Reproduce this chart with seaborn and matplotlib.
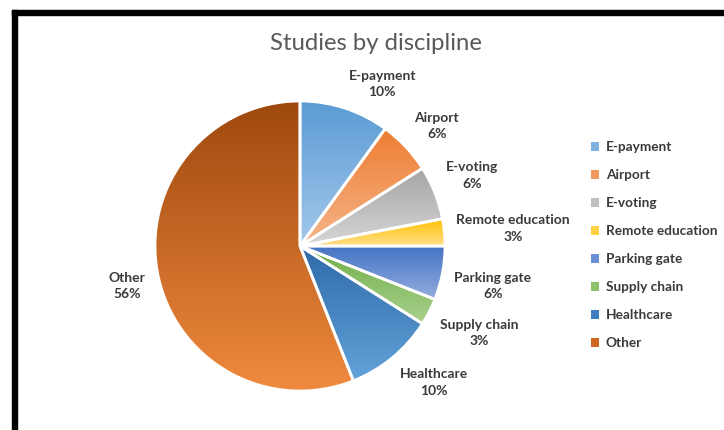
import numpy as np
import matplotlib
matplotlib.use("Agg")
import matplotlib.pyplot as plt
import seaborn as sns
from matplotlib.patches import Patch, Rectangle
from matplotlib.colors import LinearSegmentedColormap

sns.set_theme(style="white")
plt.rcParams['font.family'] = ['Lato', 'DejaVu Sans']

# ---- data ----
categories = ["E-payment", "Airport", "E-voting", "Remote education",
              "Parking gate", "Supply chain", "Healthcare", "Other"]
shares = [10, 6, 6, 3, 6, 3, 10, 56]
title = "Studies by discipline"

# ---- styles: (dark top colour, light bottom colour) per wedge ----
dark_colors = ["#5B9BD5", "#ED7D31", "#A5A5A5", "#FFC000",
               "#4472C4", "#70AD47", "#2E6AA8", "#9E480E"]
light_colors = ["#A4C8EA", "#F6B58A", "#D6D6D6", "#FFE08A",
                "#93ADDF", "#A9D18E", "#63A2DA", "#F08A3E"]
legend_colors = sns.color_palette(["#7FB2E0", "#F19A60", "#BFBFBF", "#FFD040",
                                   "#6A8FD2", "#8DC06B", "#3F7FC0", "#D0691F"])
text_color = "#3A3A3A"

W, H = 724, 430
fig = plt.figure(figsize=(W / 100, H / 100), dpi=100)
ax = fig.add_axes([0, 0, 1, 1])
ax.set_xlim(0, W)
ax.set_ylim(0, H)
ax.set_aspect("equal")
ax.axis("off")

cx, cy, R = 300, H - 246, 145
wedges, _ = ax.pie(shares, startangle=90, counterclock=False, center=(cx, cy),
                   radius=R, colors=dark_colors, frame=True,
                   wedgeprops=dict(linewidth=0))
ax.set_xlim(0, W)
ax.set_ylim(0, H)
ax.axis("off")

grad = np.linspace(1, 0, 256).reshape(-1, 1)
for w, dc, lc in zip(wedges, dark_colors, light_colors):
    cmap = LinearSegmentedColormap.from_list("g", [lc, dc])
    verts = w.get_path().vertices
    x0, x1 = verts[:, 0].min(), verts[:, 0].max()
    y0, y1 = verts[:, 1].min(), verts[:, 1].max()
    im = ax.imshow(grad, cmap=cmap, extent=(x0, x1, y0, y1), origin="upper",
                   aspect="auto", zorder=1, interpolation="bilinear", vmin=0, vmax=1)
    w.set_facecolor("none")
    im.set_clip_path(w)
    w.set_edgecolor("white")
    w.set_linewidth(2)
    w.set_zorder(2)
ax.set_xlim(0, W)
ax.set_ylim(0, H)

# ---- data labels ----
texts = []
for cat, v in zip(categories, shares):
    t = ax.text(0, 0, f"{cat}\n{v}%", ha="center", va="center", fontsize=10,
                fontweight="bold", color=text_color, linespacing=1.45)
    texts.append(t)

fig.canvas.draw()
renderer = fig.canvas.get_renderer()
cum = np.cumsum([0] + shares[:-1])
total = sum(shares)
k = 0.3
gap_r = R + 12
for t, c0, v in zip(texts, cum, shares):
    mid = np.deg2rad(90 - (c0 + v / 2) / total * 360)
    dx, dy = np.cos(mid), np.sin(mid)
    px, py = cx + gap_r * dx, cy + gap_r * dy
    bb = t.get_window_extent(renderer)
    w, h = bb.width, bb.height
    sx = np.clip(dx / k, -1, 1)
    sy = np.clip(dy / k, -1, 1)
    t.set_position((px + sx * w / 2, py + sy * h / 2 - 1.5))

# ---- title ----
ax.text(376, H - 43, title, ha="center", va="center", fontsize=17.2,
        color="#595959")

# ---- legend ----
handles = [Patch(facecolor=c, edgecolor="none") for c in legend_colors]
leg = ax.legend(handles, categories, loc="upper left",
                bbox_to_anchor=(591 / W, (H - 141) / H), frameon=False,
                handlelength=0.6, handleheight=0.6, handletextpad=0.5,
                labelspacing=1.18, borderaxespad=0, borderpad=0,
                prop=dict(size=9.8, weight="bold"))
for txt in leg.get_texts():
    txt.set_color(text_color)

# ---- outer frame (top and left) ----
ax.add_patch(Rectangle((12, 0), 5, H - 10, color="black", zorder=5, clip_on=False))
ax.add_patch(Rectangle((12, H - 15), W - 12, 5, color="black", zorder=5, clip_on=False))
ax.plot([12, W], [H - 9.5, H - 9.5], color="#B0B0B0", lw=0.8, zorder=4)

fig.savefig("out.png", dpi=100)
